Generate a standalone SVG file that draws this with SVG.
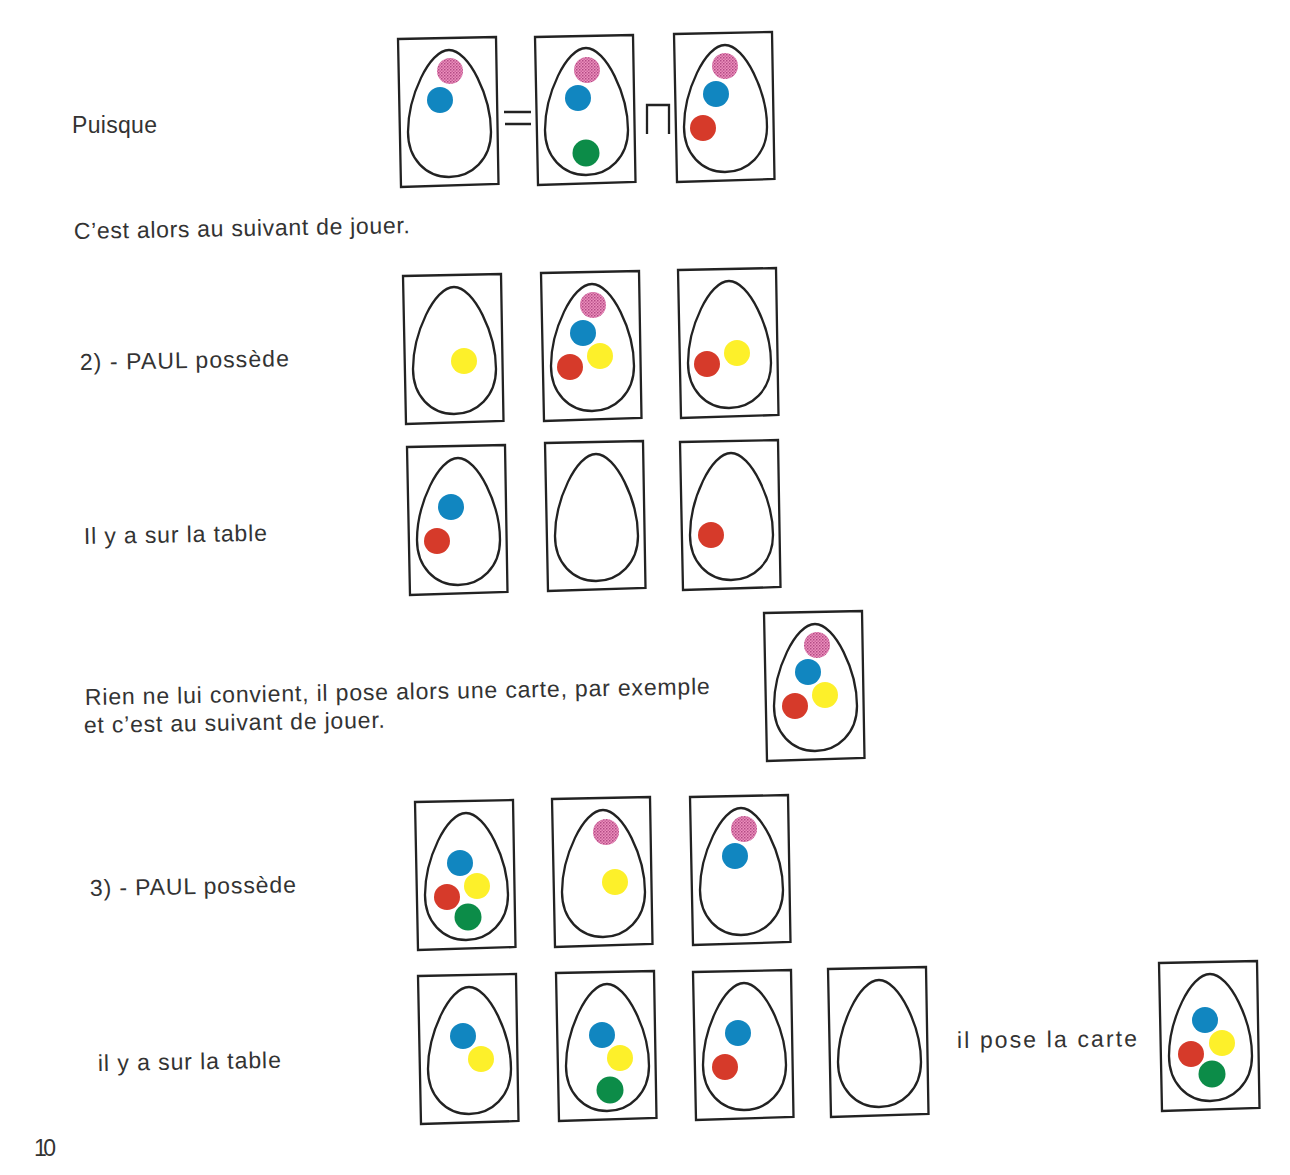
<svg xmlns="http://www.w3.org/2000/svg" xmlns:xlink="http://www.w3.org/1999/xlink" width="1290" height="1175" viewBox="0 0 1290 1175">
<style>
.t{font-family:"Liberation Sans",Arial,sans-serif;font-size:23px;fill:#333}
.k{fill:none;stroke:#222;stroke-width:2.3}
.b{fill:#1186c0}.r{fill:#d63a2a}.y{fill:#fdf02a}.g{fill:#0c8c48}.p{fill:url(#dots)}
</style>
<defs>
<pattern id="dots" width="3" height="3" patternUnits="userSpaceOnUse"><rect width="3" height="3" fill="#ec8fbb"/><rect width="1.5" height="1.5" fill="#b24a85"/><rect x="1.5" y="1.5" width="1.5" height="1.5" fill="#c9649c"/></pattern>
<g id="card"><path class="k" d="M0,2 L98,0 L100.5,147 L3,150 Z"/><path class="k" d="M51,13 C71,13 93,60 93,95 C93,122 74,140 51,140 C28,140 10,122 10,95 C10,60 31,13 51,13 Z"/></g>
</defs>
<rect width="1290" height="1175" fill="#fff"/>
<g id="card-1"><use xlink:href="#card" x="398" y="37"/><circle class="p" cx="450" cy="71" r="13"/><circle class="b" cx="440" cy="100" r="13"/></g>
<g id="card-2"><use xlink:href="#card" x="535" y="35"/><circle class="p" cx="587" cy="70" r="13"/><circle class="b" cx="578" cy="98" r="13"/><circle class="g" cx="586" cy="153" r="13.5"/></g>
<g id="card-3"><use xlink:href="#card" x="674" y="32"/><circle class="p" cx="725" cy="66" r="13"/><circle class="b" cx="716" cy="94" r="13"/><circle class="r" cx="703" cy="128" r="13"/></g>
<g id="operators"><path class="k" d="M504,112H531M505,124H531M647,134V105H669V134"/></g>
<g id="card-4"><use xlink:href="#card" x="403" y="274"/><circle class="y" cx="464" cy="361" r="13"/></g>
<g id="card-5"><use xlink:href="#card" x="541" y="271"/><circle class="p" cx="593" cy="305" r="13"/><circle class="b" cx="583" cy="333" r="13"/><circle class="y" cx="600" cy="356" r="13"/><circle class="r" cx="570" cy="367" r="13"/></g>
<g id="card-6"><use xlink:href="#card" x="678" y="268"/><circle class="y" cx="737" cy="353" r="13"/><circle class="r" cx="707" cy="364" r="13"/></g>
<g id="card-7"><use xlink:href="#card" x="407" y="445"/><circle class="b" cx="451" cy="507" r="13"/><circle class="r" cx="437" cy="541" r="13"/></g>
<g id="card-8"><use xlink:href="#card" x="545" y="441"/></g>
<g id="card-9"><use xlink:href="#card" x="680" y="440"/><circle class="r" cx="711" cy="535" r="13"/></g>
<g id="card-10"><use xlink:href="#card" x="764" y="611"/><circle class="p" cx="817" cy="645" r="13"/><circle class="b" cx="808" cy="672" r="13"/><circle class="y" cx="825" cy="695" r="13"/><circle class="r" cx="795" cy="706" r="13"/></g>
<g id="card-11"><use xlink:href="#card" x="415" y="800"/><circle class="b" cx="460" cy="863" r="13"/><circle class="y" cx="477" cy="886" r="13"/><circle class="r" cx="447" cy="897" r="13"/><circle class="g" cx="468" cy="917" r="13.5"/></g>
<g id="card-12"><use xlink:href="#card" x="552" y="797"/><circle class="p" cx="606" cy="832" r="13"/><circle class="y" cx="615" cy="882" r="13"/></g>
<g id="card-13"><use xlink:href="#card" x="690" y="795"/><circle class="p" cx="744" cy="829" r="13"/><circle class="b" cx="735" cy="856" r="13"/></g>
<g id="card-14"><use xlink:href="#card" x="418" y="974"/><circle class="b" cx="463" cy="1036" r="13"/><circle class="y" cx="481" cy="1059" r="13"/></g>
<g id="card-15"><use xlink:href="#card" x="556" y="971"/><circle class="b" cx="602" cy="1035" r="13"/><circle class="y" cx="620" cy="1058" r="13"/><circle class="g" cx="610" cy="1090" r="13.5"/></g>
<g id="card-16"><use xlink:href="#card" x="693" y="970"/><circle class="b" cx="738" cy="1033" r="13"/><circle class="r" cx="725" cy="1067" r="13"/></g>
<g id="card-17"><use xlink:href="#card" x="828" y="967"/></g>
<g id="card-18"><use xlink:href="#card" x="1159" y="961"/><circle class="b" cx="1205" cy="1020" r="13"/><circle class="y" cx="1222" cy="1043" r="13"/><circle class="r" cx="1191" cy="1054" r="13"/><circle class="g" cx="1212" cy="1074" r="13.5"/></g>
<g id="labels">
<text class="t" x="72" y="133" textLength="85">Puisque</text>
<text class="t" x="74" y="239" textLength="336" transform="rotate(-1 74 239)">C’est alors au suivant de jouer.</text>
<text class="t" x="80" y="370" textLength="209" transform="rotate(-1 80 370)">2) - PAUL possède</text>
<text class="t" x="84" y="544" textLength="183" transform="rotate(-1 84 544)">Il y a sur la table</text>
<text class="t" x="85" y="705" textLength="625" transform="rotate(-1 85 705)">Rien ne lui convient, il pose alors une carte, par exemple</text>
<text class="t" x="84" y="733" textLength="301" transform="rotate(-1 84 733)">et c’est au suivant de jouer.</text>
<text class="t" x="90" y="896" textLength="206" transform="rotate(-1 90 896)">3) - PAUL possède</text>
<text class="t" x="98" y="1071" textLength="183" transform="rotate(-1 98 1071)">il y a sur la table</text>
<text class="t" x="957" y="1048" textLength="180" transform="rotate(-0.5 957 1048)">il pose la carte</text>
<text class="t" x="34" y="1156" textLength="22">10</text>
</g>
</svg>
